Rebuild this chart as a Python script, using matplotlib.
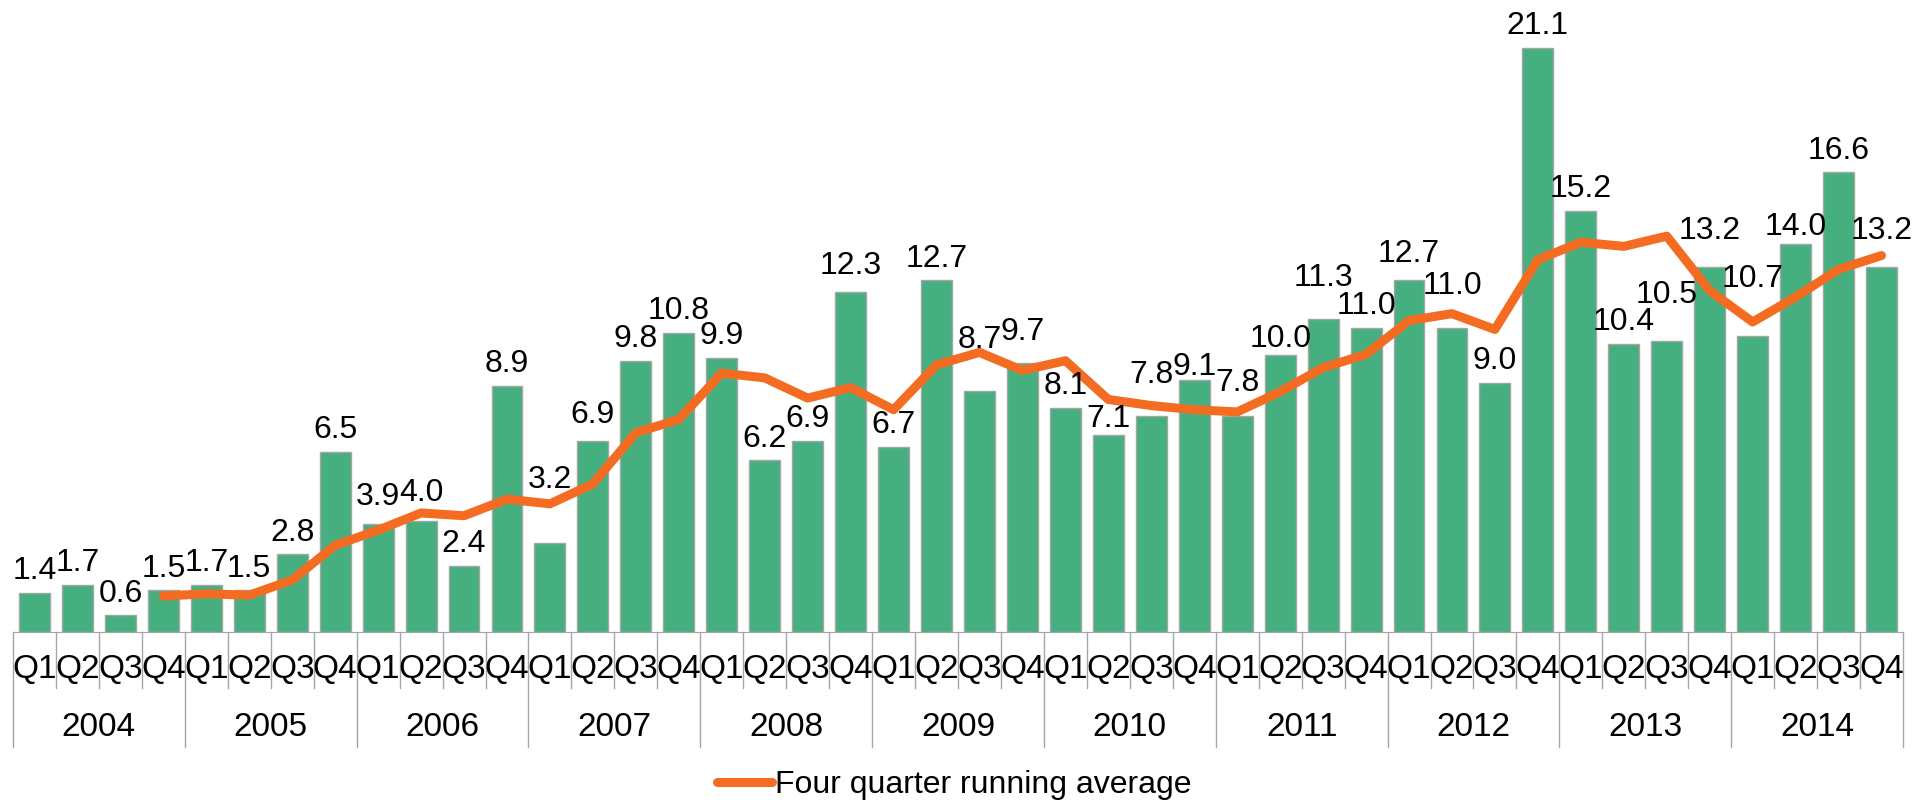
import numpy as np
import matplotlib
matplotlib.use('Agg')
import matplotlib.pyplot as plt
from matplotlib.lines import Line2D

plt.rcParams['font.family'] = ['Liberation Sans', 'DejaVu Sans']

years = ['2004', '2005', '2006', '2007', '2008', '2009', '2010', '2011', '2012', '2013', '2014']
quarters = ['Q1', 'Q2', 'Q3', 'Q4']

values = [1.4, 1.7, 0.6, 1.5,
          1.7, 1.5, 2.8, 6.5,
          3.9, 4.0, 2.4, 8.9,
          3.2, 6.9, 9.8, 10.8,
          9.9, 6.2, 6.9, 12.3,
          6.7, 12.7, 8.7, 9.7,
          8.1, 7.1, 7.8, 9.1,
          7.8, 10.0, 11.3, 11.0,
          12.7, 11.0, 9.0, 21.1,
          15.2, 10.4, 10.5, 13.2,
          10.7, 14.0, 16.6, 13.2]

# four quarter running average, starts at 2004 Q4
avg_start = 3
running_avg = [1.30,
               1.38, 1.33, 1.88, 3.13,
               3.68, 4.30, 4.20, 4.80,
               4.63, 5.35, 7.20, 7.68,
               9.35, 9.18, 8.45, 8.83,
               8.03, 9.65, 10.10, 9.45,
               9.80, 8.40, 8.18, 8.03,
               7.95, 8.68, 9.55, 10.03,
               11.25, 11.50, 10.93, 13.45,
               14.08, 13.93, 14.30, 12.33,
               11.20, 12.10, 13.10, 13.60]

# how far each value label sits above its bar (data units)
label_lift = [0.5] * len(values)
for i, d in {8: .7, 9: .75, 12: 2.0, 13: .65, 19: .65, 22: 1.55, 23: .85, 25: .3,
             26: 1.2, 27: .2, 28: .9, 29: .3, 30: 1.2, 32: .65, 33: 1.2, 38: 1.4,
             39: 1.0, 40: 1.75, 41: .35, 43: 1.0}.items():
    label_lift[i] = d

green = '#46AF7F'
orange = '#F46B22'
grey = '#A6A6A6'

W, H = 1928, 802
fig = plt.figure(figsize=(W / 100, H / 100), dpi=100)
left, right, base, top = 13, 1903, 632, 23
ax = fig.add_axes([left / W, (H - base) / H, (right - left) / W, (base - top) / H])

n = len(values)
x = np.arange(n)
ax.bar(x, values, width=0.72, color=green, edgecolor=grey, linewidth=1)
ax.plot(x[avg_start:], running_avg, color=orange, linewidth=6.5,
        solid_capstyle='round', solid_joinstyle='round', zorder=3)

for i, v in enumerate(values):
    ax.text(i, v + label_lift[i], f'{v:.1f}', ha='center', va='baseline',
            fontsize=23, zorder=4)

ax.set_xlim(-0.5, n - 0.5)
ax.set_ylim(0, 22)
for s in ['top', 'right', 'left']:
    ax.spines[s].set_visible(False)
ax.spines['bottom'].set_color(grey)
ax.set_xticks([])
ax.set_yticks([])

# two-level category axis
axh = base - top
tr = ax.get_xaxis_transform()
q_len = 56 / axh
y_len = 115 / axh
for i in range(n + 1):
    is_year = (i % 4 == 0)
    ax.plot([i - 0.5, i - 0.5], [0, -(y_len if is_year else q_len)], transform=tr,
            color=grey, linewidth=1, clip_on=False)
for i in range(n):
    ax.text(i, -38 / axh, quarters[i % 4], transform=tr, ha='center', va='center',
            fontsize=24)
for k, yr in enumerate(years):
    ax.text(4 * k + 1.5, -95 / axh, yr, transform=tr, ha='center', va='center',
            fontsize=24)

handle = Line2D([], [], color=orange, linewidth=6.5, solid_capstyle='round')
fig.legend([handle], ['Four quarter running average'], loc='center',
           bbox_to_anchor=(0.495, (H - 785) / H), frameon=False, fontsize=23,
           handlelength=1.7, handletextpad=0.1)

fig.savefig('out.png', dpi=100)
